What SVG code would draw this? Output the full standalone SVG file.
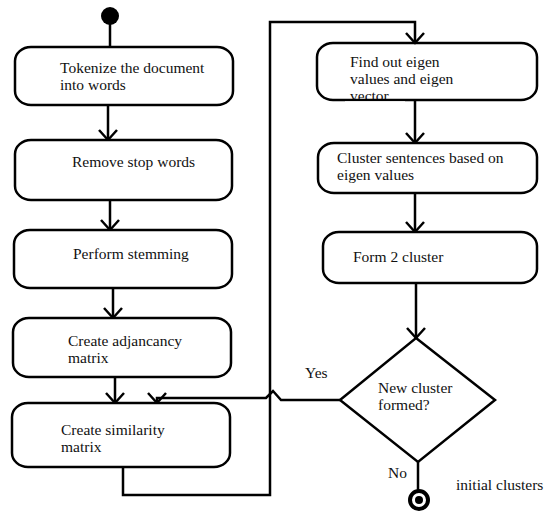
<svg xmlns="http://www.w3.org/2000/svg" width="545" height="511" viewBox="0 0 545 511">
<style>
.box{fill:#fff;stroke:#000;stroke-width:2.5}
.ln{fill:none;stroke:#000;stroke-width:2.5}
.t{font-size:15.5px;fill:#111}
</style>
<defs>
<marker id="v" viewBox="-12 -12 24 24" refX="0" refY="0" markerWidth="24" markerHeight="24" markerUnits="userSpaceOnUse" orient="auto">
<path d="M-10,-9 L0,0 L-10,9" fill="none" stroke="#000" stroke-width="2.5"/>
</marker>
</defs>
<rect width="545" height="511" fill="#fff"/>
<g id="connectors">
<line class="ln" x1="110" y1="16" x2="110" y2="47"/>
<line class="ln" x1="108" y1="105" x2="108" y2="140" marker-end="url(#v)"/>
<line class="ln" x1="110" y1="200" x2="110" y2="230" marker-end="url(#v)"/>
<line class="ln" x1="113" y1="288" x2="113" y2="318" marker-end="url(#v)"/>
<line class="ln" x1="115" y1="377" x2="115" y2="403" marker-end="url(#v)"/>
<path class="ln" d="M123,467 L123,495 L270,495 L270,22 L415,22 L415,43" marker-end="url(#v)"/>
<line class="ln" x1="415" y1="100" x2="415" y2="143" marker-end="url(#v)"/>
<line class="ln" x1="415" y1="193" x2="415" y2="232" marker-end="url(#v)"/>
<line class="ln" x1="416" y1="283" x2="416" y2="338" marker-end="url(#v)"/>
<path class="ln" d="M340,400 L281,400 L273,391 L266,398 L157,398 L157,403" marker-end="url(#v)"/>
<line class="ln" x1="418" y1="462" x2="418" y2="490"/>
</g>
<g font-family="'Liberation Serif', 'DejaVu Serif', 'Times New Roman', serif">
<g id="start"><circle cx="110" cy="16" r="9" fill="#000"/></g>
<g id="n1">
<rect class="box" x="15" y="47" width="218" height="58" rx="16" ry="14"/>
<text class="t" x="60" y="73">Tokenize the document</text>
<text class="t" x="60" y="90">into words</text>
</g>
<g id="n2">
<rect class="box" x="15" y="140" width="217" height="60" rx="16" ry="14"/>
<text class="t" x="72" y="167">Remove stop words</text>
</g>
<g id="n3">
<rect class="box" x="14" y="230" width="218" height="58" rx="16" ry="14"/>
<text class="t" x="73" y="259">Perform stemming</text>
</g>
<g id="n4">
<rect class="box" x="13" y="318" width="218" height="59" rx="16" ry="14"/>
<text class="t" x="68" y="346">Create adjancancy</text>
<text class="t" x="68" y="363">matrix</text>
</g>
<g id="n5">
<rect class="box" x="12" y="403" width="218" height="64" rx="16" ry="14"/>
<text class="t" x="61" y="435">Create similarity</text>
<text class="t" x="61" y="452">matrix</text>
</g>
<g id="n6">
<text class="t" x="350" y="67">Find out eigen</text>
<text class="t" x="350" y="84">values and eigen</text>
<text class="t" x="350" y="101">vector</text>
<rect class="box" style="fill:none" x="317" y="43" width="220" height="57" rx="16" ry="14"/>
<rect x="345" y="101.3" width="60" height="8" fill="#fff"/>
</g>
<g id="n7">
<rect class="box" x="318" y="143" width="219" height="50" rx="16" ry="14"/>
<text class="t" x="337" y="163">Cluster sentences based on</text>
<text class="t" x="337" y="180">eigen values</text>
</g>
<g id="n8">
<rect class="box" x="323" y="232" width="214" height="51" rx="16" ry="14"/>
<text class="t" x="353" y="262">Form 2 cluster</text>
</g>
<g id="decision">
<polygon class="box" points="416,338 495,400 418,462 340,400"/>
<text class="t" x="378" y="393">New cluster</text>
<text class="t" x="378" y="410">formed?</text>
</g>
<text class="t" x="305" y="378">Yes</text>
<text class="t" x="388" y="478">No</text>
<g id="end">
<circle cx="419" cy="500" r="9" fill="#fff" stroke="#000" stroke-width="4"/>
<circle cx="419" cy="500" r="4" fill="#000"/>
</g>
<text class="t" x="456" y="490">initial clusters</text>
</g>
</svg>
